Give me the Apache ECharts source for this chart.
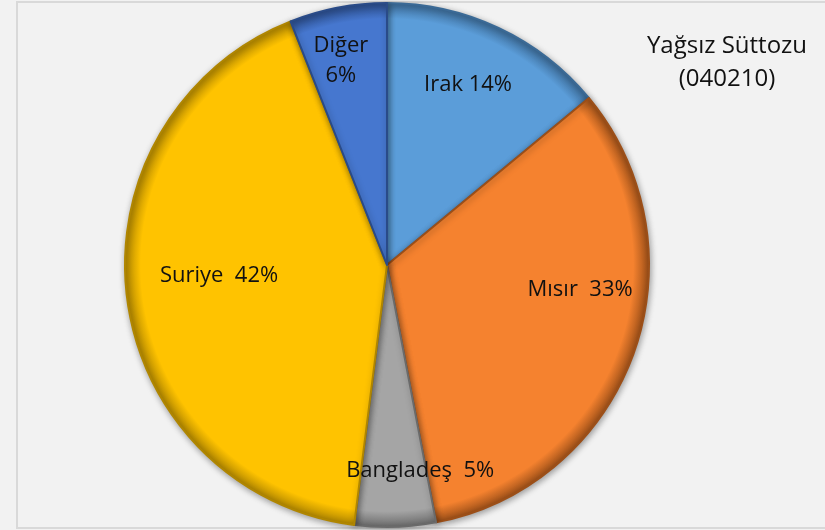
<!DOCTYPE html>
<html>
<head>
<meta charset="utf-8">
<script src="https://cdn.jsdelivr.net/npm/echarts@6/dist/echarts.min.js"></script>
<style>
  html, body { margin: 0; padding: 0; background: #f2f2f2; }
  #chart { width: 825px; height: 530px; }
</style>
</head>
<body>
<div id="chart"></div>
<script>
// Ülke payları (Yağsız Süttozu 040210)
const countries = ["Irak", "Mısır", "Bangladeş", "Suriye", "Diğer"];
const shares = [14, 33, 5, 42, 6];
const labelSeparators = [" ", "  ", "  ", "  ", "\n"];

const colors = ["#5b9dd9", "#f5822f", "#a5a5a5", "#ffc300", "#4677cf"];
const edgeColors = ["#3b6a96", "#9c4f18", "#6a6a6a", "#b08600", "#2a4b88"];
// etiket kaydırmaları (Excel "best fit" konumuna yaklaşmak için)
const labelShift = [[24, -59], [67, -21], [29, 72], [-35, -6], [-21, -73]];

const CX = 387, CY = 265, R = 262;

const chart = echarts.init(document.getElementById("chart"));

// dış kenarda koyulaşan "bevel" etkisi
const bevelFill = (i) =>
  new echarts.graphic.RadialGradient(CX, CY, R, [
    { offset: 0, color: colors[i] },
    { offset: 0.94, color: colors[i] },
    { offset: 1, color: edgeColors[i] },
  ], true);

const option = {
  animation: false,
  backgroundColor: "#f2f2f2",
  graphic: [
    {
      type: "rect",
      z: -10,
      shape: { x: 17, y: 2, width: 900, height: 526 },
      style: { fill: "none", stroke: "#d9d9d9", lineWidth: 2 },
    },
    {
      type: "text",
      x: 727,
      y: 30,
      style: {
        text: "Yağsız Süttozu\n(040210)",
        align: "center",
        fill: "#111",
        font: '24px "Open Sans", sans-serif',
        lineHeight: 33,
      },
    },
  ],
  series: [
    {
      type: "pie",
      center: [CX, CY],
      radius: R,
      startAngle: 90,
      clockwise: true,
      data: countries.map((name, i) => ({
        name,
        value: shares[i],
        itemStyle: {
          color: bevelFill(i),
          borderColor: edgeColors[i],
          borderWidth: 2,
          shadowColor: "rgba(0,0,0,0.35)",
          shadowBlur: 6,
          shadowOffsetX: 1,
          shadowOffsetY: 2,
        },
      })),
      label: {
        show: true,
        position: "inside",
        color: "#111",
        fontSize: 22,
        fontFamily: "Open Sans",
        lineHeight: 30,
        formatter: (p) => p.name + labelSeparators[p.dataIndex] + p.value + "%",
      },
      labelLine: { show: false },
      labelLayout: (p) => ({
        dx: labelShift[p.dataIndex][0],
        dy: labelShift[p.dataIndex][1],
      }),
      emphasis: { disabled: true },
    },
  ],
};

chart.setOption(option);
</script>
</body>
</html>
